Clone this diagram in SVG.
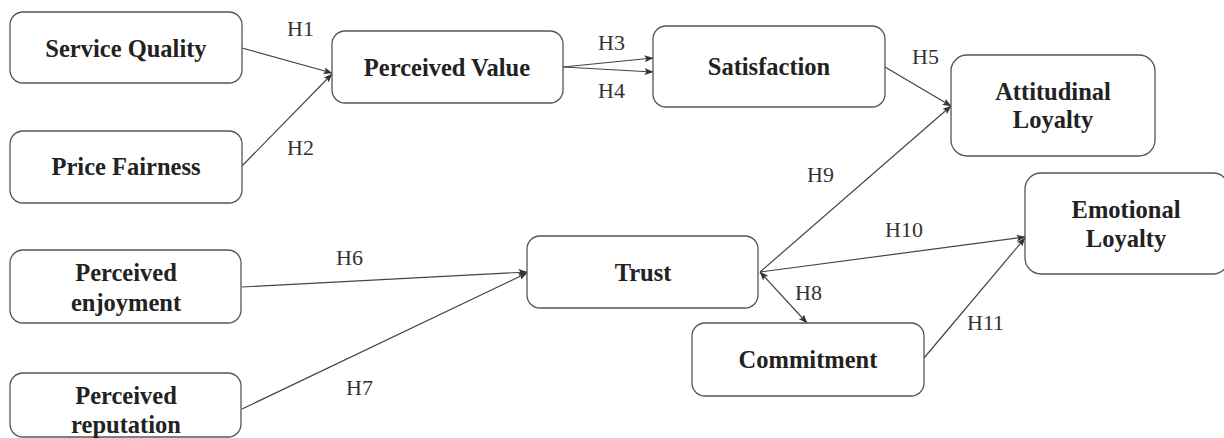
<svg xmlns="http://www.w3.org/2000/svg" width="1224" height="438" viewBox="0 0 1224 438">
<defs>
<marker id="ah" markerWidth="9" markerHeight="7" refX="8.5" refY="3.5" orient="auto-start-reverse" markerUnits="userSpaceOnUse">
<path d="M0,0 L9,3.5 L0,7 L2,3.5 z" fill="#333"/>
</marker>
<style>
.box{fill:#fff;stroke:#555;stroke-width:1.3}
.lbl{font-family:'Liberation Serif','DejaVu Serif',serif;font-weight:bold;font-size:24.5px;fill:#222;text-anchor:middle}
.h{font-family:'Liberation Serif','DejaVu Serif',serif;font-size:22px;fill:#333}
.c line{stroke:#444;stroke-width:1.2;fill:none}
</style>
</defs>
<rect width="1224" height="438" fill="#fff"/>
<g class="c" id="connectors">
<line x1="242" y1="48" x2="332" y2="73" marker-end="url(#ah)"/>
<line x1="242" y1="166" x2="332" y2="74" marker-end="url(#ah)"/>
<line x1="563" y1="67" x2="653" y2="58" marker-end="url(#ah)"/>
<line x1="563" y1="67" x2="653" y2="72" marker-end="url(#ah)"/>
<line x1="885" y1="67" x2="951" y2="106" marker-end="url(#ah)"/>
<line x1="760" y1="272" x2="951" y2="106" marker-end="url(#ah)"/>
<line x1="760" y1="272" x2="1025" y2="237" marker-end="url(#ah)"/>
<line x1="760" y1="272" x2="807" y2="323" marker-start="url(#ah)" marker-end="url(#ah)"/>
<line x1="924" y1="358" x2="1025" y2="238" marker-end="url(#ah)"/>
<line x1="242" y1="287" x2="527" y2="272" marker-end="url(#ah)"/>
<line x1="242" y1="409" x2="527" y2="273" marker-end="url(#ah)"/>
<text class="h" x="287" y="36">H1</text>
<text class="h" x="287" y="155">H2</text>
<text class="h" x="598" y="50">H3</text>
<text class="h" x="598" y="98">H4</text>
<text class="h" x="912" y="64">H5</text>
<text class="h" x="336" y="265">H6</text>
<text class="h" x="346" y="395">H7</text>
<text class="h" x="795" y="300">H8</text>
<text class="h" x="807" y="182">H9</text>
<text class="h" x="885" y="237">H10</text>
<text class="h" x="967" y="330">H11</text>
</g>
<g id="service-quality"><rect class="box" x="10" y="12" width="232" height="71" rx="13"/><text class="lbl" x="126" y="57">Service Quality</text></g>
<g id="price-fairness"><rect class="box" x="10" y="131" width="232" height="72" rx="13"/><text class="lbl" x="126" y="175">Price Fairness</text></g>
<g id="perceived-value"><rect class="box" x="332" y="31" width="231" height="72" rx="13"/><text class="lbl" x="447" y="76">Perceived Value</text></g>
<g id="satisfaction"><rect class="box" x="653" y="26" width="232" height="81" rx="13"/><text class="lbl" x="769" y="75">Satisfaction</text></g>
<g id="attitudinal-loyalty"><rect class="box" x="951" y="55" width="204" height="101" rx="16"/><text class="lbl" x="1053" y="100">Attitudinal</text><text class="lbl" x="1053" y="128">Loyalty</text></g>
<g id="emotional-loyalty"><rect class="box" x="1025" y="173" width="204" height="101" rx="16"/><text class="lbl" x="1126" y="218">Emotional</text><text class="lbl" x="1126" y="247">Loyalty</text></g>
<g id="perceived-enjoyment"><rect class="box" x="10" y="250" width="231" height="73" rx="13"/><text class="lbl" x="126" y="281">Perceived</text><text class="lbl" x="126" y="311">enjoyment</text></g>
<g id="perceived-reputation"><rect class="box" x="10" y="373" width="231" height="64" rx="13"/><text class="lbl" x="126" y="404">Perceived</text><text class="lbl" x="126" y="433">reputation</text></g>
<g id="trust"><rect class="box" x="527" y="236" width="231" height="72" rx="13"/><text class="lbl" x="643" y="281">Trust</text></g>
<g id="commitment"><rect class="box" x="692" y="323" width="232" height="73" rx="13"/><text class="lbl" x="808" y="368">Commitment</text></g>
</svg>
